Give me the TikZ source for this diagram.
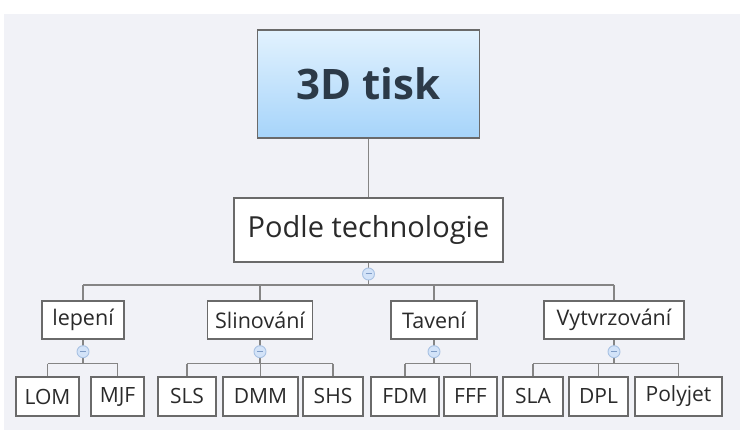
\documentclass[tikz,border=0pt]{standalone}
\usepackage{fontspec}
\setmainfont{Open Sans}
\usetikzlibrary{calc}
\definecolor{panel}{HTML}{F1F2F7}
\definecolor{boxline}{HTML}{6A6A6A}
\definecolor{conline}{HTML}{858585}
\definecolor{txt}{HTML}{2A2A2A}
\definecolor{titletxt}{HTML}{2C3A48}
\definecolor{icofill}{HTML}{D3E3F8}
\definecolor{icoline}{HTML}{A9C2E3}
\definecolor{icominus}{HTML}{7F9CC6}
\definecolor{rootTop}{HTML}{E2F2FE}
\definecolor{rootBot}{HTML}{A6D4FA}
\tikzset{
  box/.style={draw=boxline, line width=1.4pt, fill=white, text=txt, inner sep=0pt, anchor=center},
  leafbox/.style={box, minimum height=39pt, font=\fontsize{21}{24}\selectfont},
  midbox/.style={box, minimum height=38pt, font=\fontsize{21.5}{24}\selectfont},
  conn/.style={draw=conline, line width=1.4pt},
  icon/.style={circle, draw=icoline, fill=icofill, line width=0.9pt, minimum size=12pt, inner sep=0pt},
}
\newcommand{\icoMinus}[1]{\draw[icominus, line width=1pt] ([xshift=-3pt]#1.center) -- ([xshift=3pt]#1.center);}
\begin{document}
\begin{tikzpicture}[x=1pt,y=-1pt]
\useasboundingbox (0,0) rectangle (740,446);
\fill[white] (0,0) rectangle (740,446);
\fill[panel] (4,14) rectangle (740,430);

% root
\node[box, top color=rootTop, bottom color=rootBot, minimum width=222pt, minimum height=108pt,
      text=titletxt, font=\bfseries\fontsize{42}{46}\selectfont] (root) at (368.5,84) {3D tisk};
% level 1
\node[box, minimum width=269pt, minimum height=64pt, font=\fontsize{29}{32}\selectfont] (pod) at (368.5,230) {Podle technologie};
% level 2
\node[midbox, minimum width=82pt] (lep) at (83,320) {lepení};
\node[midbox, minimum width=105pt] (sli) at (260,320) {Slinování};
\node[midbox, minimum width=86pt] (tav) at (434,320) {Tavení};
\node[midbox, minimum width=140pt] (vyt) at (614,320) {Vytvrzování};
% leaves
\node[leafbox, minimum width=63pt] (lom) at (47.5,396.5) {LOM};
\node[leafbox, minimum width=53pt] (mjf) at (117.5,396.5) {MJF};
\node[leafbox, minimum width=58pt] (sls) at (187,396.5) {SLS};
\node[leafbox, minimum width=75pt] (dmm) at (260.5,396.5) {DMM};
\node[leafbox, minimum width=60pt] (shs) at (333,396.5) {SHS};
\node[leafbox, minimum width=68pt] (fdm) at (405,396.5) {FDM};
\node[leafbox, minimum width=53pt] (fff) at (470.5,396.5) {FFF};
\node[leafbox, minimum width=60pt] (sla) at (533,396.5) {SLA};
\node[leafbox, minimum width=59pt] (dpl) at (598.5,396.5) {DPL};
\node[leafbox, minimum width=87pt] (poly) at (678.5,396.5) {Polyjet};

% connectors root -> level 1
\draw[conn] (root.south) -- (pod.north);
% level 1 -> level 2
\coordinate (podBar) at (368.5,285);
\draw[conn] (pod.south) -- (podBar);
\draw[conn] (lep.north |- podBar) -- (vyt.north |- podBar);
\foreach \n in {lep,sli,tav,vyt} \draw[conn] (\n.north |- podBar) -- (\n.north);
\node[icon] (podI) at (368.5,274) {};
\icoMinus{podI}

% level 2 -> leaves
\foreach \p/\first/\last/\kids in {lep/lom/mjf/{lom,mjf}, sli/sls/shs/{sls,dmm,shs}, tav/fdm/fff/{fdm,fff}, vyt/sla/poly/{sla,dpl,poly}}{
  \coordinate (\p Bar) at ($(\p.south)+(0,24)$);
  \draw[conn] (\p.south) -- (\p Bar);
  \draw[conn] (\first.north |- \p Bar) -- (\last.north |- \p Bar);
  \foreach \k in \kids \draw[conn] (\k.north |- \p Bar) -- (\k.north);
  \node[icon] (\p I) at ($(\p.south)+(0,12)$) {};
  \icoMinus{\p I}
}
\end{tikzpicture}
\end{document}
